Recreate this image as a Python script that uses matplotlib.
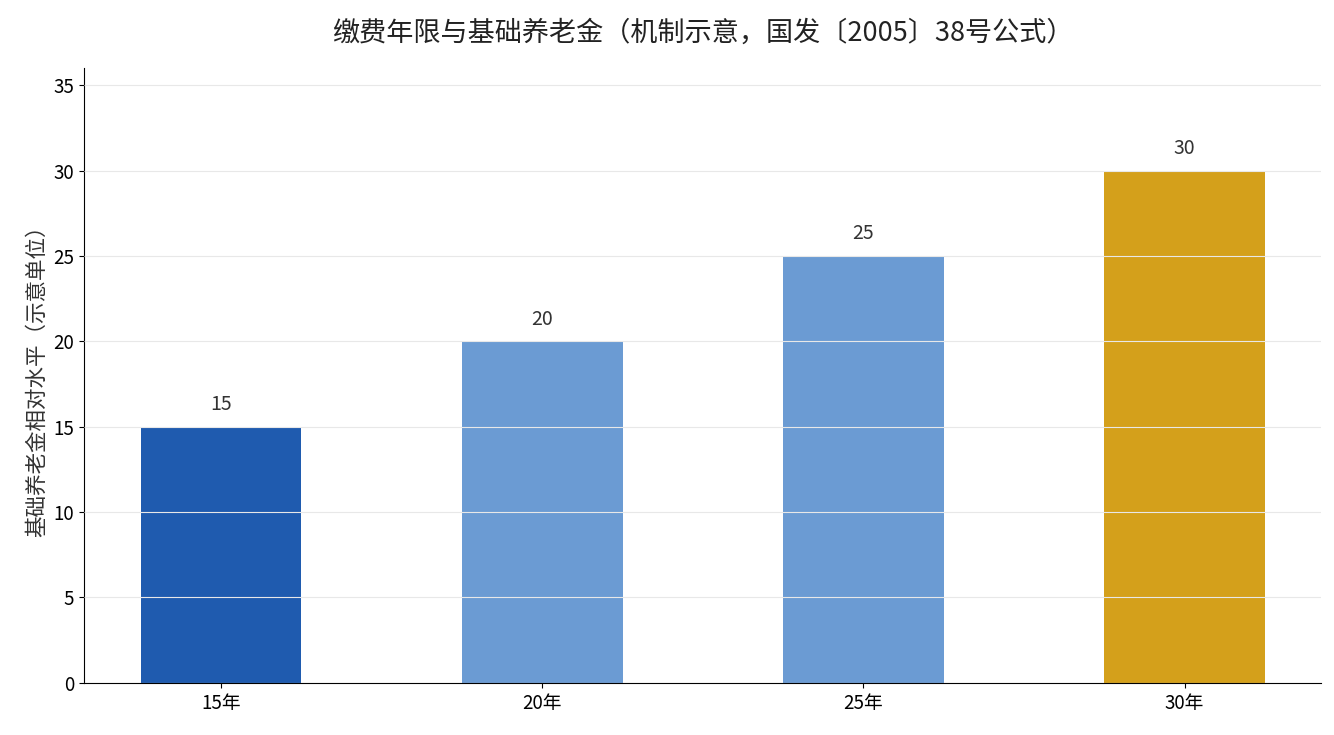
import matplotlib
matplotlib.use("Agg")
import matplotlib.pyplot as plt

plt.rcParams['font.family'] = ['Noto Sans CJK SC', 'DejaVu Sans']

categories = ['15年', '20年', '25年', '30年']
values = [15, 20, 25, 30]
colors = ['#1f5baf', '#6b9bd3', '#6b9bd3', '#d4a01b']

fig = plt.figure(figsize=(13.34, 7.35), dpi=100)
ax = fig.add_axes([0.063, 0.071, 0.927, 0.836])

bars = ax.bar(categories, values, width=0.5, color=colors, zorder=2)
for b, v in zip(bars, values):
    ax.text(b.get_x() + b.get_width() / 2, v + 0.7, str(v), ha='center', va='bottom',
            fontsize=14, color='#333333')

ax.set_ylim(0, 36)
ax.set_xlim(-0.427, 3.424)
ax.set_yticks(range(0, 36, 5))
ax.grid(axis='y', color='#e8e8e8', linewidth=0.8, zorder=3)
ax.set_axisbelow(False)
ax.tick_params(labelsize=13.5)
ax.spines['top'].set_visible(False)
ax.spines['right'].set_visible(False)
ax.set_ylabel('基础养老金相对水平（示意单位）', fontsize=15.5, color='#333333')
ax.set_title('缴费年限与基础养老金（机制示意，国发〔2005〕38号公式）', fontsize=19.5, color='#222222', pad=20)

fig.savefig('out.png', dpi=100)
